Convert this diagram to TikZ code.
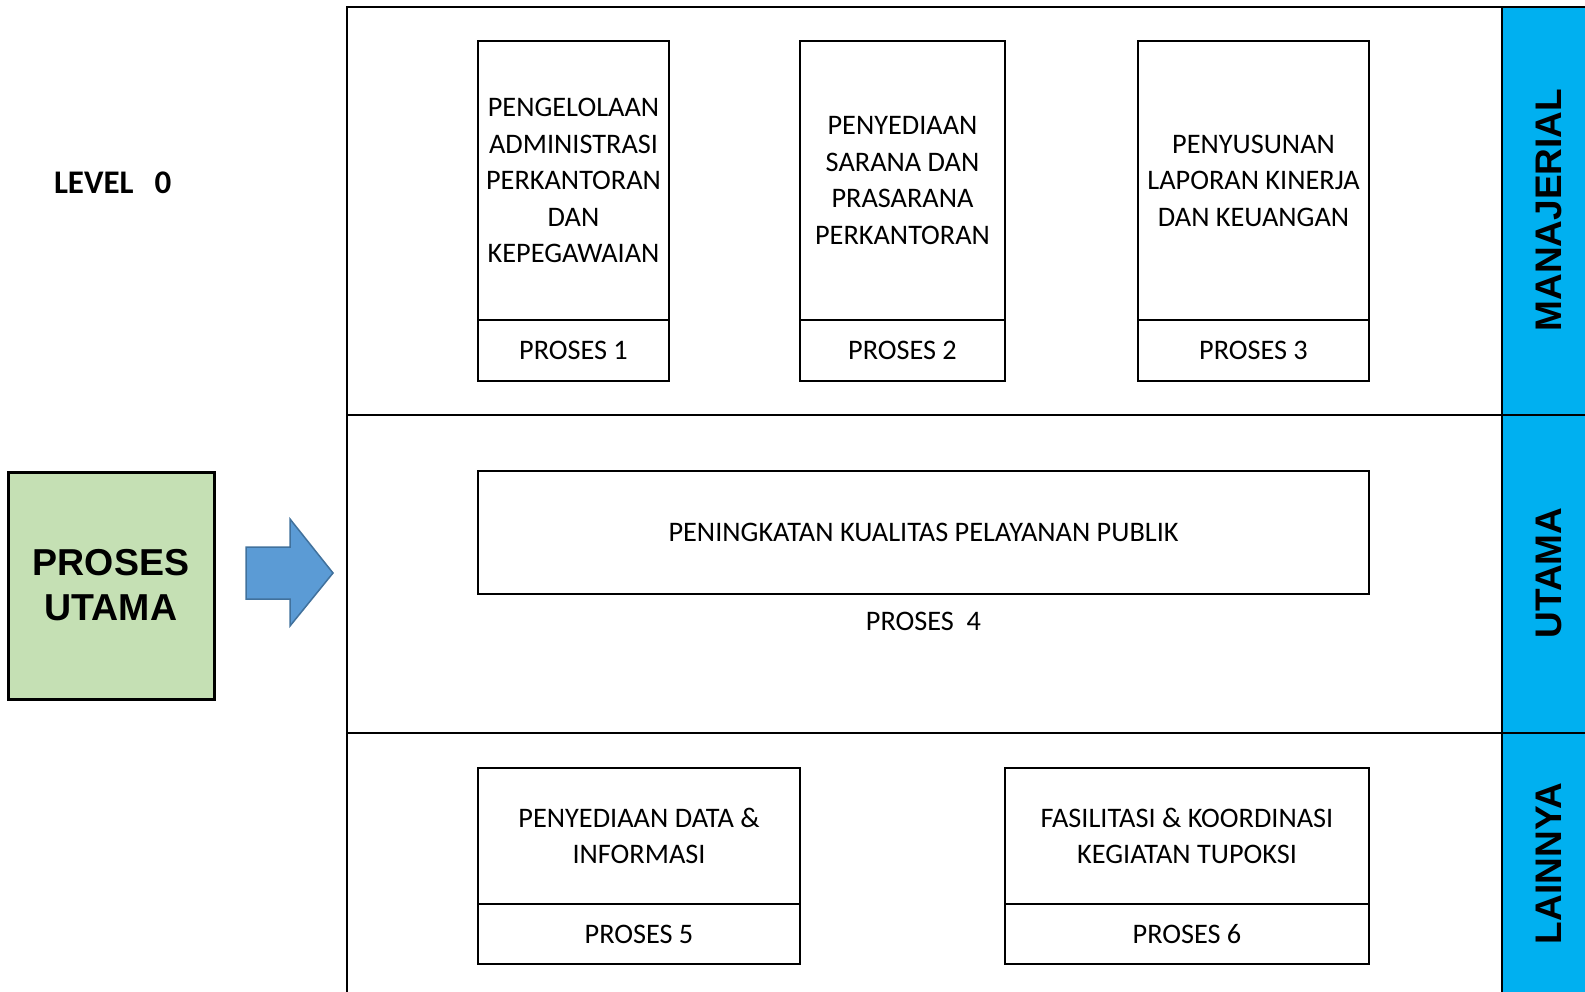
\documentclass[tikz,border=0pt]{standalone}
\usepackage{fontspec}
\setmainfont{Carlito}
\newfontfamily\arialfont{Liberation Sans}
\definecolor{bandblue}{HTML}{00B0F0}
\definecolor{boxgreen}{HTML}{C5E0B4}
\definecolor{arrowfill}{HTML}{5B9BD5}
\definecolor{arrowline}{HTML}{41719C}
\begin{document}
\begin{tikzpicture}[x=1pt,y=-1pt,line width=2pt,
  procbox/.style={draw, line width=2pt, inner sep=0pt, align=center,
    font=\fontsize{28.3}{36.5}\selectfont},
  lanelabel/.style={rotate=90, inner sep=0pt,
    font=\arialfont\bfseries\fontsize{37}{40}\selectfont},
  plain/.style={inner sep=0pt, align=center, font=\fontsize{28.3}{36.5}\selectfont}]
\useasboundingbox (0,0) rectangle (1585,992);
% lanes
\fill[bandblue] (1502,7) rectangle (1585,992);
\draw (347,992) -- (347,7) -- (1585,7);
\draw (347,415) -- (1585,415);
\draw (347,733) -- (1585,733);
\draw (1502,7) -- (1502,992);
\node[lanelabel] (lman) at (1548.5,210) {MANAJERIAL};
\node[lanelabel] (lutm) at (1548.5,573) {UTAMA};
\node[lanelabel] (llai) at (1548.5,863.5) {LAINNYA};
% left side
\node[inner sep=0pt, anchor=west, font=\bfseries\fontsize{33}{33}\selectfont] (level) at (53,183) {LEVEL\hspace{21pt}0};
\node[draw, fill=boxgreen, line width=3pt, minimum width=206, minimum height=227, align=center,
  font=\arialfont\bfseries\fontsize{37.5}{45}\selectfont] (utama) at (111,585.5) {PROSES\\UTAMA};
\draw[arrowline, fill=arrowfill, line width=1.5pt] (246,547) -- (290,547) -- (290,519) -- (333,573) -- (290,626) -- (290,599) -- (246,599) -- cycle;
% manajerial processes
\node[procbox, minimum width=191, minimum height=279] (p1) at (573.5,180.5)
  {PENGELOLAAN\\ADMINISTRASI\\PERKANTORAN\\DAN\\KEPEGAWAIAN};
\node[procbox, minimum width=191, minimum height=61] (p1l) at (573.5,350.5) {PROSES 1};
\node[procbox, minimum width=205, minimum height=279] (p2) at (902.5,180.5)
  {PENYEDIAAN\\SARANA DAN\\PRASARANA\\PERKANTORAN};
\node[procbox, minimum width=205, minimum height=61] (p2l) at (902.5,350.5) {PROSES 2};
\node[procbox, minimum width=231, minimum height=279] (p3) at (1253.5,180.5)
  {PENYUSUNAN\\LAPORAN KINERJA\\DAN KEUANGAN};
\node[procbox, minimum width=231, minimum height=61] (p3l) at (1253.5,350.5) {PROSES 3};
% utama
\node[procbox, minimum width=891, minimum height=123] (p4) at (923.5,532.5)
  {PENINGKATAN KUALITAS PELAYANAN PUBLIK};
\node[plain] (p4l) at (923.5,621.5) {PROSES\ \ 4};
% lainnya
\node[procbox, minimum width=322, minimum height=136.5] (p5) at (639,835.75)
  {PENYEDIAAN DATA \&\\INFORMASI};
\node[procbox, minimum width=322, minimum height=60] (p5l) at (639,934) {PROSES 5};
\node[procbox, minimum width=364, minimum height=136.5] (p6) at (1187,835.75)
  {FASILITASI \& KOORDINASI\\KEGIATAN TUPOKSI};
\node[procbox, minimum width=364, minimum height=60] (p6l) at (1187,934) {PROSES 6};
\end{tikzpicture}
\end{document}
